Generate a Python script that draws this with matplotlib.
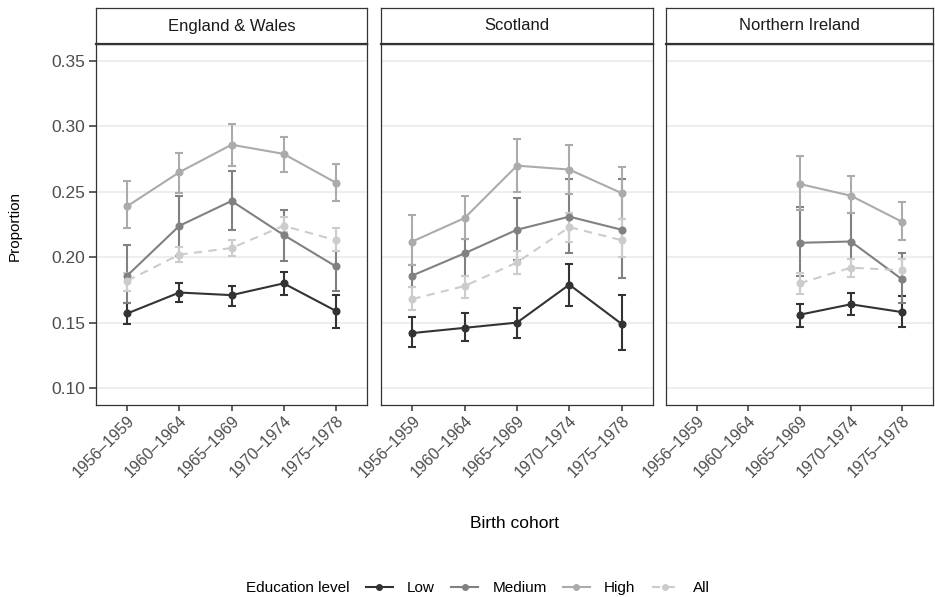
import numpy as np
import matplotlib
matplotlib.use("Agg")
import matplotlib.pyplot as plt
from matplotlib.lines import Line2D

plt.rcParams['font.family'] = ['Liberation Sans', 'DejaVu Sans']

cohorts = ["1956\u20131959", "1960\u20131964", "1965\u20131969", "1970\u20131974", "1975\u20131978"]
regions = ["England & Wales", "Scotland", "Northern Ireland"]
levels = ["Low", "Medium", "High", "All"]

# England & Wales: estimate, lower, upper
ew_low = [0.157, 0.173, 0.171, 0.180, 0.159]
ew_low_lo = [0.149, 0.166, 0.163, 0.171, 0.146]
ew_low_hi = [0.165, 0.180, 0.178, 0.189, 0.171]
ew_med = [0.186, 0.224, 0.243, 0.217, 0.193]
ew_med_lo = [0.165, 0.201, 0.221, 0.197, 0.174]
ew_med_hi = [0.209, 0.247, 0.266, 0.236, 0.205]
ew_high = [0.239, 0.265, 0.286, 0.279, 0.257]
ew_high_lo = [0.222, 0.249, 0.270, 0.265, 0.243]
ew_high_hi = [0.258, 0.280, 0.302, 0.292, 0.271]
ew_all = [0.182, 0.202, 0.207, 0.224, 0.213]
ew_all_lo = [0.174, 0.196, 0.201, 0.219, 0.205]
ew_all_hi = [0.188, 0.208, 0.213, 0.231, 0.222]

# Scotland
sc_low = [0.142, 0.146, 0.150, 0.179, 0.149]
sc_low_lo = [0.131, 0.136, 0.138, 0.163, 0.129]
sc_low_hi = [0.154, 0.157, 0.161, 0.195, 0.171]
sc_med = [0.186, 0.203, 0.221, 0.231, 0.221]
sc_med_lo = [0.177, 0.186, 0.198, 0.203, 0.184]
sc_med_hi = [0.194, 0.214, 0.245, 0.260, 0.260]
sc_high = [0.212, 0.230, 0.270, 0.267, 0.249]
sc_high_lo = [0.194, 0.214, 0.250, 0.248, 0.229]
sc_high_hi = [0.232, 0.247, 0.290, 0.286, 0.269]
sc_all = [0.168, 0.178, 0.196, 0.223, 0.213]
sc_all_lo = [0.160, 0.169, 0.187, 0.212, 0.200]
sc_all_hi = [0.177, 0.186, 0.205, 0.234, 0.229]

# Northern Ireland (no data for the two earliest cohorts)
ni_low = [np.nan, np.nan, 0.156, 0.164, 0.158]
ni_low_lo = [np.nan, np.nan, 0.147, 0.156, 0.147]
ni_low_hi = [np.nan, np.nan, 0.164, 0.173, 0.170]
ni_med = [np.nan, np.nan, 0.211, 0.212, 0.183]
ni_med_lo = [np.nan, np.nan, 0.186, 0.191, 0.165]
ni_med_hi = [np.nan, np.nan, 0.238, 0.234, 0.203]
ni_high = [np.nan, np.nan, 0.256, 0.247, 0.227]
ni_high_lo = [np.nan, np.nan, 0.236, 0.234, 0.213]
ni_high_hi = [np.nan, np.nan, 0.277, 0.262, 0.242]
ni_all = [np.nan, np.nan, 0.180, 0.192, 0.190]
ni_all_lo = [np.nan, np.nan, 0.172, 0.185, 0.182]
ni_all_hi = [np.nan, np.nan, 0.188, 0.199, 0.199]

data = {
    "England & Wales": [(ew_low, ew_low_lo, ew_low_hi), (ew_med, ew_med_lo, ew_med_hi),
                        (ew_high, ew_high_lo, ew_high_hi), (ew_all, ew_all_lo, ew_all_hi)],
    "Scotland": [(sc_low, sc_low_lo, sc_low_hi), (sc_med, sc_med_lo, sc_med_hi),
                 (sc_high, sc_high_lo, sc_high_hi), (sc_all, sc_all_lo, sc_all_hi)],
    "Northern Ireland": [(ni_low, ni_low_lo, ni_low_hi), (ni_med, ni_med_lo, ni_med_hi),
                         (ni_high, ni_high_lo, ni_high_hi), (ni_all, ni_all_lo, ni_all_hi)],
}

colors = ["#333333", "#818181", "#ababab", "#cccccc"]
styles = ["-", "-", "-", (0, (4, 3))]

W, H = 935, 597
fig = plt.figure(figsize=(W / 100, H / 100), dpi=100)

panel_x = [(96, 367), (381, 653), (666, 933)]
top, bottom, strip_top = 44, 405, 8
border = "#333333"

x = np.arange(len(cohorts))
for i, reg in enumerate(regions):
    x0, x1 = panel_x[i]
    ax = fig.add_axes([x0 / W, 1 - bottom / H, (x1 - x0) / W, (bottom - top) / H])
    for (est, lo, hi), c, ls in zip(data[reg], colors, styles):
        est = np.array(est); lo = np.array(lo); hi = np.array(hi)
        ax.errorbar(x, est, yerr=[est - lo, hi - est], fmt="none", ecolor=c,
                    elinewidth=1.5, capsize=3, capthick=1.5, zorder=3)
        ax.plot(x, est, color=c, lw=1.5, ls=ls, marker="o", ms=4.8, zorder=4)
    ax.set_xlim(-0.6, len(cohorts) - 0.4)
    ax.set_ylim(0.087, 0.363)
    ax.set_yticks([0.10, 0.15, 0.20, 0.25, 0.30, 0.35])
    ax.set_xticks(x)
    ax.set_xticklabels(cohorts, rotation=45, ha="right", va="top", rotation_mode="anchor",
                       fontsize=11.5, color="#4d4d4d")
    ax.grid(axis="y", color="#ebebeb", lw=1.2, zorder=0)
    ax.set_axisbelow(True)
    for s in ax.spines.values():
        s.set_color(border)
        s.set_linewidth(0.9)
    ax.tick_params(axis="x", length=4, width=1.1, color=border, pad=2)
    ax.tick_params(axis="y", length=5, width=1.1, color=border, labelsize=12.5,
                   labelcolor="#4d4d4d", pad=3)
    if i == 0:
        ax.set_yticklabels(["0.10", "0.15", "0.20", "0.25", "0.30", "0.35"])
    else:
        ax.set_yticklabels([])
        ax.tick_params(axis="y", length=0)

    # facet strip
    sax = fig.add_axes([x0 / W, 1 - top / H, (x1 - x0) / W, (top - strip_top) / H])
    sax.set_xticks([]); sax.set_yticks([])
    for s in sax.spines.values():
        s.set_color(border)
        s.set_linewidth(0.9)
    sax.spines["bottom"].set_linewidth(1.6)
    sax.text(0.5, 0.5, reg, ha="center", va="center", fontsize=12, color="#1a1a1a",
             transform=sax.transAxes)

fig.text((96 + 933) / 2 / W, 1 - 523 / H, "Birth cohort", ha="center", va="center",
         fontsize=12.5, color="black")
fig.text(15 / W, 1 - 226 / H, "Proportion", ha="center", va="center", rotation=90,
         fontsize=11, color="black")

handles = [Line2D([0], [0], color=c, lw=1.5, ls=ls, marker="o", ms=4)
           for c, ls in zip(colors, styles)]
fig.text(246 / W, 1 - 588 / H, "Education level", ha="left", va="center", fontsize=11)
fig.legend(handles, levels, loc="center left", bbox_to_anchor=(366 / W, 1 - 588 / H),
           ncol=4, frameon=False, fontsize=11, handlelength=1.75, handletextpad=0.95,
           columnspacing=1.05, borderaxespad=0, borderpad=0)

fig.savefig("out.png", dpi=100, facecolor="white")
